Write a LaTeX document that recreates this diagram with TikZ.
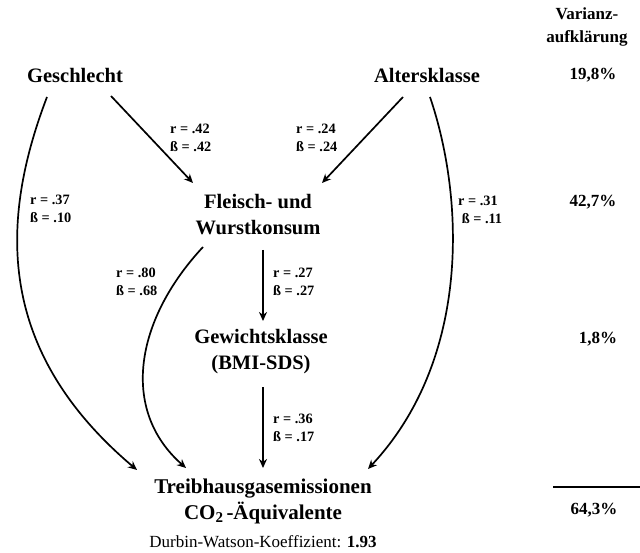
\documentclass[tikz,border=0pt]{standalone}
\usepackage{fontspec}
\setmainfont{Liberation Serif}
\usetikzlibrary{arrows.meta}
\begin{document}
\begin{tikzpicture}[x=1pt,y=-1pt,
  big/.style={font=\fontsize{20.5}{26}\selectfont\bfseries, align=center, inner sep=0pt},
  coef/.style={font=\fontsize{14.3}{18}\selectfont\bfseries, align=left, anchor=west, inner sep=0pt},
  pct/.style={font=\fontsize{17}{23}\selectfont\bfseries, align=center, inner sep=0pt},
  arr/.style={line width=1.7pt, -{Stealth[length=9pt,width=8pt]}}]
\useasboundingbox (0,0) rectangle (640,553);
% main nodes
\node[big] (gesch) at (75,75) {Geschlecht};
\node[big] (alter) at (427,75) {Altersklasse};
\node[big] (fleisch) at (258,215) {Fleisch- und\\Wurstkonsum};
\node[big] (gewicht) at (261,352) {Gewichtsklasse\\(BMI-SDS)};
\node[big, font=\fontsize{21}{26}\selectfont\bfseries] (treib) at (263,501) {Treibhausgasemissionen\\CO\raisebox{-0.35ex}{\fontsize{15}{15}\selectfont 2}\,-Äquivalente};
\node[font=\fontsize{17}{20}\selectfont, inner sep=0pt] (dw) at (263,542) {Durbin-Watson-Koeffizient: \textbf{1.93}};
% variance column
\node[pct] (varh) at (587,27) {Varianz-\\aufklärung};
\node[pct] (p1) at (593,75) {19,8\%};
\node[pct] (p2) at (593,202) {42,7\%};
\node[pct] (p3) at (598,339) {1,8\%};
\node[pct] (p4) at (594,510) {64,3\%};
\coordinate (ls) at (553,487);
\coordinate (le) at (640,487);
\draw[line width=2.2pt] (ls) -- (le);
% connector end points
\coordinate (g1) at (111,96);
\coordinate (f1) at (193,183);
\coordinate (a1) at (403,97);
\coordinate (f2) at (322,183);
\coordinate (g2) at (47,97);
\coordinate (t1) at (137,470);
\coordinate (a2) at (430,97);
\coordinate (t4) at (368,469);
\coordinate (f3) at (203,247);
\coordinate (t2) at (186,468);
\coordinate (f4) at (263,250);
\coordinate (w1) at (263,321);
\coordinate (w2) at (263,387);
\coordinate (t3) at (263,468);
% connectors
\draw[arr] (g1) -- (f1);
\draw[arr] (a1) -- (f2);
\draw[arr] (g2) .. controls (0,220) and (-5,350) .. (t1);
\draw[arr] (a2) .. controls (465,200) and (470,360) .. (t4);
\draw[arr] (f3) .. controls (135,320) and (120,410) .. (t2);
\draw[arr] (f4) -- (w1);
\draw[arr] (w2) -- (t3);
% coefficient labels
\node[coef] (c1) at (170,138) {r = .42\\ß = .42};
\node[coef] (c2) at (296,138) {r = .24\\ß = .24};
\node[coef] (c3) at (30,209) {r = .37\\ß = .10};
\node[coef] (c4) at (458,210) {r = .31\\\ ß = .11};
\node[coef] (c5) at (116,282) {r = .80\\ß = .68};
\node[coef] (c6) at (273,282) {r = .27\\ß = .27};
\node[coef] (c7) at (273,428) {r = .36\\ß = .17};
\end{tikzpicture}
\end{document}
